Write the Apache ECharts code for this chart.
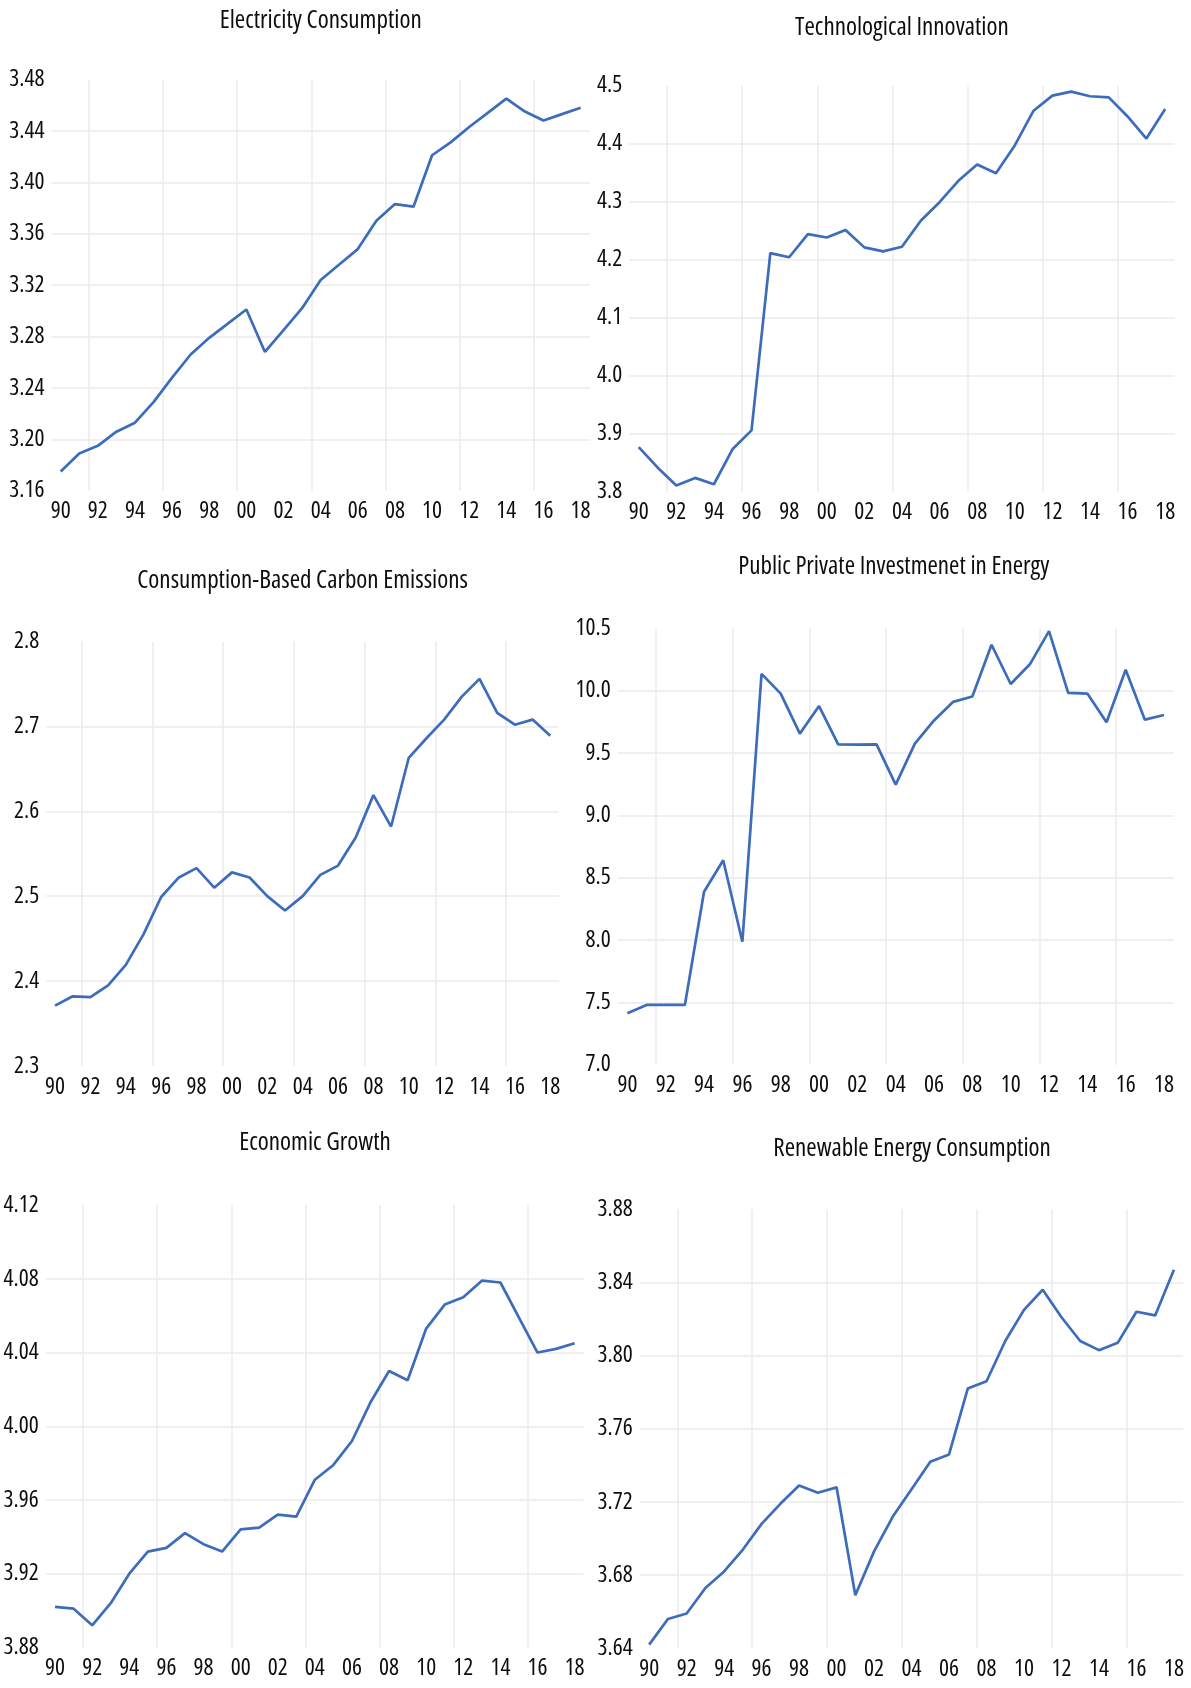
<!DOCTYPE html>
<html>
<head>
<meta charset="utf-8">
<title>Energy, Innovation and Growth Indicators, 1990–2018</title>
<script src="https://cdn.jsdelivr.net/npm/echarts@6/dist/echarts.min.js"></script>
<style>
  html, body { margin: 0; padding: 0; background: #ffffff; }
  #chart { width: 1191px; height: 1688px; }
</style>
</head>
<body>
<div id="chart"></div>
<script>
// Year categories (two-digit labels), 1990 to 2018
const years = ['90','91','92','93','94','95','96','97','98','99',
               '00','01','02','03','04','05','06','07','08','09',
               '10','11','12','13','14','15','16','17','18'];

// Series values (log scale units)
const electricityConsumption = [3.175, 3.189, 3.195, 3.206, 3.213, 3.229, 3.248, 3.266, 3.279, 3.290,
                                3.301, 3.268, 3.285, 3.302, 3.324, 3.336, 3.348, 3.370, 3.383, 3.381,
                                3.421, 3.431, 3.443, 3.454, 3.465, 3.455, 3.448, 3.453, 3.458];
const technologicalInnovation = [3.876, 3.841, 3.810, 3.823, 3.812, 3.873, 3.905, 4.211, 4.204, 4.244,
                                 4.238, 4.251, 4.221, 4.214, 4.222, 4.267, 4.299, 4.336, 4.364, 4.349,
                                 4.397, 4.457, 4.483, 4.490, 4.482, 4.480, 4.447, 4.409, 4.460];
const carbonEmissions = [2.371, 2.382, 2.381, 2.395, 2.419, 2.455, 2.499, 2.522, 2.533, 2.510,
                         2.528, 2.522, 2.500, 2.483, 2.500, 2.525, 2.536, 2.569, 2.619, 2.582,
                         2.663, 2.686, 2.708, 2.735, 2.756, 2.716, 2.702, 2.708, 2.689];
const energyInvestment = [7.414, 7.480, 7.480, 7.480, 8.388, 8.640, 7.987, 10.135, 9.977, 9.656,
                          9.877, 9.570, 9.568, 9.570, 9.247, 9.576, 9.762, 9.911, 9.954, 10.369,
                          10.054, 10.212, 10.478, 9.983, 9.977, 9.748, 10.169, 9.768, 9.805];
const economicGrowth = [3.902, 3.901, 3.892, 3.904, 3.920, 3.932, 3.934, 3.942, 3.936, 3.932,
                        3.944, 3.945, 3.952, 3.951, 3.971, 3.979, 3.992, 4.013, 4.030, 4.025,
                        4.053, 4.066, 4.070, 4.079, 4.078, 4.059, 4.040, 4.042, 4.045];
const renewableConsumption = [3.642, 3.656, 3.659, 3.673, 3.682, 3.694, 3.708, 3.719, 3.729, 3.725,
                              3.728, 3.669, 3.693, 3.712, 3.727, 3.742, 3.746, 3.782, 3.786, 3.808,
                              3.825, 3.836, 3.821, 3.808, 3.803, 3.807, 3.824, 3.822, 3.847];

// Panel titles
const titles = ['Electricity Consumption', 'Technological Innovation',
                'Consumption-Based Carbon Emissions', 'Public Private Investmenet in Energy',
                'Economic Growth', 'Renewable Energy Consumption'];

// Value-axis ranges: [min, max, step, decimals]
const yRanges = [[3.16, 3.48, 0.04, 2], [3.8, 4.5, 0.1, 1],
                 [2.3, 2.8, 0.1, 1],    [7.0, 10.5, 0.5, 1],
                 [3.88, 4.12, 0.04, 2], [3.64, 3.88, 0.04, 2]];

const seriesValues = [electricityConsumption, technologicalInnovation, carbonEmissions,
                      energyInvestment, economicGrowth, renewableConsumption];

// Layout of the six panels (plot rectangles and title centres, px)
const panels = [
  { grid: [51.4, 79.4, 538.5, 411.4],  title: [320.7, 21.3] },
  { grid: [629.3, 85.8, 545.3, 405.4], title: [901.9, 27.7] },
  { grid: [46.2, 641.5, 512.9, 424.4], title: [302.6, 581.0] },
  { grid: [617.8, 628.4, 555.8, 436.4], title: [893.8, 566.8] },
  { grid: [45.8, 1205.1, 538.1, 442.3], title: [315.0, 1142.4] },
  { grid: [639.8, 1209.3, 543.5, 439.0], title: [912.1, 1148.7] }
];

const FONT = 'Open Sans';
const TEXT_COLOR = '#0d0d0d';
const LINE_COLOR = '#3d6cba';
const GRID_COLOR = '#ebebeb';
const TITLE_SIZE = 25;
const TICK_SIZE = 23.5;

const option = {
  backgroundColor: '#ffffff',
  animation: false,
  title: [],
  grid: [],
  xAxis: [],
  yAxis: [],
  series: []
};

panels.forEach((p, i) => {
  const [gl, gt, gw, gh] = p.grid;
  const [ymin, ymax, ystep, dec] = yRanges[i];

  option.title.push({
    text: titles[i],
    left: p.title[0],
    top: p.title[1] - TITLE_SIZE / 2,
    textAlign: 'center',
    padding: 0,
    textStyle: {
      fontFamily: FONT, fontSize: TITLE_SIZE, fontStyle: 'normal',
      fontWeight: 'condensed', color: TEXT_COLOR
    }
  });

  option.grid.push({ left: gl, top: gt, width: gw, height: gh, containLabel: false });

  option.xAxis.push({
    type: 'category',
    gridIndex: i,
    data: years,
    boundaryGap: true,
    axisLine: { show: false },
    axisTick: { show: false },
    axisLabel: {
      interval: 1,
      margin: 9,
      fontFamily: FONT, fontSize: TICK_SIZE, fontStyle: 'normal',
      fontWeight: 'condensed', color: TEXT_COLOR
    },
    splitLine: {
      show: true,
      interval: (idx) => idx % 4 === 2,
      showMinLine: true,
      showMaxLine: false,
      lineStyle: { color: GRID_COLOR, width: 1.5 }
    }
  });

  option.yAxis.push({
    type: 'value',
    gridIndex: i,
    min: ymin,
    max: ymax,
    interval: ystep,
    axisLine: { show: false },
    axisTick: { show: false },
    axisLabel: {
      margin: 7,
      padding: [0, 0, 8, 0],
      fontFamily: FONT, fontSize: TICK_SIZE, fontStyle: 'normal',
      fontWeight: 'condensed', color: TEXT_COLOR,
      formatter: (v) => Number(v).toFixed(dec)
    },
    splitLine: {
      show: true,
      showMinLine: false,
      showMaxLine: false,
      lineStyle: { color: GRID_COLOR, width: 1.5 }
    }
  });

  option.series.push({
    name: titles[i],
    type: 'line',
    xAxisIndex: i,
    yAxisIndex: i,
    data: seriesValues[i],
    showSymbol: false,
    symbol: 'none',
    smooth: false,
    lineStyle: { color: LINE_COLOR, width: 2.7 },
    itemStyle: { color: LINE_COLOR },
    silent: true
  });
});

const chart = echarts.init(document.getElementById('chart'), null, { renderer: 'canvas' });
chart.setOption(option);
</script>
</body>
</html>
